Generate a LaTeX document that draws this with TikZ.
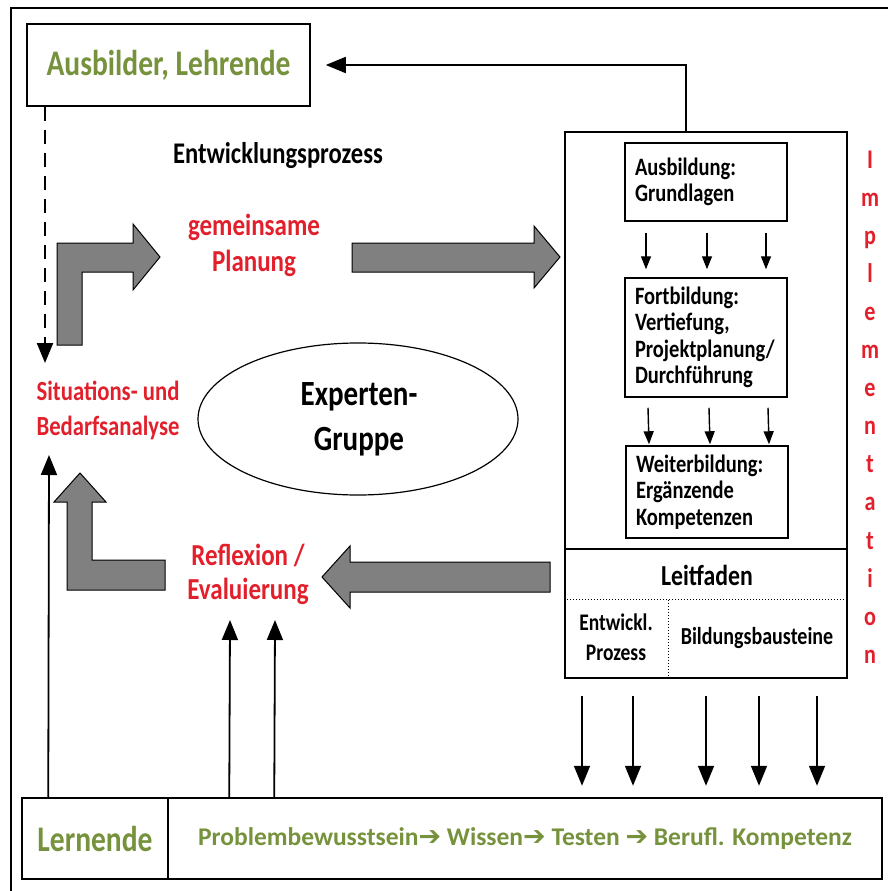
\documentclass[tikz,border=0pt]{standalone}
\usepackage{fontspec}
\setmainfont{Carlito}[FakeStretch=0.82]
\newfontfamily\plainf{Carlito}
\newfontfamily\symf{DejaVu Sans}
\usetikzlibrary{arrows.meta,shapes.geometric}
\definecolor{grn}{RGB}{118,146,60}
\definecolor{rd}{RGB}{226,32,44}
\definecolor{bfill}{RGB}{128,128,128}
\begin{document}
\begin{tikzpicture}[x=1pt,y=-1pt,
  box/.style={draw, line width=1.5pt, inner sep=0pt},
  ibox/.style={draw, line width=1.5pt, text width=142pt, inner xsep=10pt, inner ysep=0pt, align=left,
    font=\fontsize{25}{26.5}\selectfont\bfseries},
  rtxt/.style={text=rd, align=center, inner sep=0pt},
  arr/.style={line width=1.8pt, -{Triangle[length=20pt,width=16pt]}},
  sarr/.style={line width=1.4pt, -{Triangle[length=13pt,width=10pt]}},
  block/.style={draw=black, line width=1pt, fill=bfill}]
\useasboundingbox (0,0) rectangle (888,891);
% outer frame
\draw[line width=2pt] (11,891) -- (11,8) -- (888,8);

% Ausbilder box
\node[box, minimum width=283pt, minimum height=82pt, text=grn,
  font=\fontsize{36}{40}\selectfont\bfseries] (ausbilder) at (168.5,65) {Ausbilder, Lehrende};

% big implementation box
\node[box, minimum width=282pt, minimum height=546pt] (impl) at (706,405) {};
\node[ibox, minimum height=78pt] (ausb) at (706,182) {Ausbildung:\\Grundlagen};
\node[ibox, minimum height=119pt] (fort) at (706,337.5) {Fortbildung:\\Vertiefung,\\Projektplanung/\\Durchführung};
\node[ibox, minimum height=92pt] (weit) at (707,492) {Weiterbildung:\\Ergänzende\\Kompetenzen};
\foreach \o in {-60,1,60} {
  \draw[sarr] ([xshift=\o pt,yshift=-11pt]ausb.south) -- ([xshift=\o pt,yshift=8pt]fort.north);
  \draw[sarr] ([xshift=\o pt+2pt,yshift=-10pt]fort.south) -- ([xshift=\o pt+2pt,yshift=1pt]weit.north);
}
\draw[line width=1.5pt] ([yshift=130pt]impl.south west) -- ([yshift=130pt]impl.south east);
\draw[line width=1pt, dotted] ([yshift=79pt]impl.south west) -- ([yshift=79pt]impl.south east);
\draw[line width=1pt, dotted] ([xshift=104pt,yshift=79pt]impl.south west) -- ([xshift=104pt]impl.south west);
\node[inner sep=0pt, font=\fontsize{29}{30}\selectfont\bfseries] (leit) at (707,575) {Leitfaden};
\node[inner sep=0pt, align=center, font=\fontsize{23.8}{30}\selectfont\bfseries] (entp) at (616,637) {Entwickl.\\Prozess};
\node[inner sep=0pt, font=\fontsize{24.4}{30}\selectfont\bfseries] (bbau) at (757,638) {Bildungsbausteine};

% Implementation letters
\foreach \l [count=\i from 0] in {I,m,p,l,e,m,e,n,t,a,t,i,o,n}
  \node[anchor=base, text=rd, inner sep=0pt, font=\fontsize{27}{30}\selectfont\bfseries] (im\i) at (870,{168+38.1*\i}) {\l};

% texts
\node[inner sep=0pt, font=\fontsize{30}{32}\selectfont\bfseries] (entw) at (278,156) {Entwicklungsprozess};
\node[rtxt, font=\fontsize{30.5}{36}\selectfont\bfseries] (plan) at (254,245) {gemeinsame\\Planung};
\node[rtxt, font=\fontsize{27.7}{35}\selectfont\bfseries] (sit) at (108,410) {Situations- und\\Bedarfsanalyse};
\node[rtxt, font=\fontsize{30.5}{34}\selectfont\bfseries] (refl) at (248,574) {Reflexion /\\Evaluierung};
\node[draw, ellipse, line width=1.2pt, minimum width=320pt, minimum height=152pt] (exp) at (358,419) {};
\node[align=center, inner sep=0pt, font=\fontsize{35.4}{45}\selectfont\bfseries] (expt) at (359,419) {Experten-\\Gruppe};

% Lernende row
\node[box, minimum width=146pt, minimum height=81pt, text=grn,
  font=\fontsize{36}{40}\selectfont\bfseries] (lern) at (95,838.5) {Lernende};
\node[box, minimum width=714pt, minimum height=81pt, text=grn,
  font=\plainf\fontsize{25.5}{30}\selectfont\bfseries] (prog) at (525,838.5)
  {Problembewusstsein{\symf\bfseries\fontsize{27}{30}\selectfont ➔} Wissen{\symf\bfseries\fontsize{27}{30}\selectfont ➔} Testen {\symf\bfseries\fontsize{27}{30}\selectfont ➔} Berufl. Kompetenz};

% gray block arrows
\draw[block] (57,345) -- (57,243) -- (133,243) -- (133,224) -- (160,257) -- (133,290) -- (133,272) -- (82,272) -- (82,345) -- cycle;
\draw[block] (352,243) -- (534,243) -- (534,226) -- (560,257) -- (534,288) -- (534,272) -- (352,272) -- cycle;
\draw[block] (550,562) -- (350,562) -- (350,546) -- (322,577) -- (350,608) -- (350,592) -- (550,592) -- cycle;
\draw[block] (67,590) -- (67,502) -- (54,502) -- (80,473) -- (106,502) -- (92,502) -- (92,560) -- (165,560) -- (165,590) -- cycle;

% connectors
\draw[arr, shorten >=15pt] ([xshift=-20pt]impl.north) |- (ausbilder.east);
\coordinate (dtip) at (45,363);
\draw[arr, line width=2.2pt, dash pattern=on 14pt off 9pt] ([xshift=-123.5pt]ausbilder.south) -- (dtip);
\coordinate (ltip) at (49,455);
\draw[arr] ([xshift=27pt]lern.north west) -- (ltip);
\coordinate (r1) at (230,620);
\coordinate (r2) at (275,620);
\draw[arr] ([xshift=62pt]prog.north west) -- (r1);
\draw[arr] ([xshift=107pt]prog.north west) -- (r2);
\foreach \o in {-124,-73,0,53,111}
  \draw[arr] ([xshift=\o pt,yshift=-17pt]impl.south) -- ++(0,90);
\end{tikzpicture}
\end{document}
